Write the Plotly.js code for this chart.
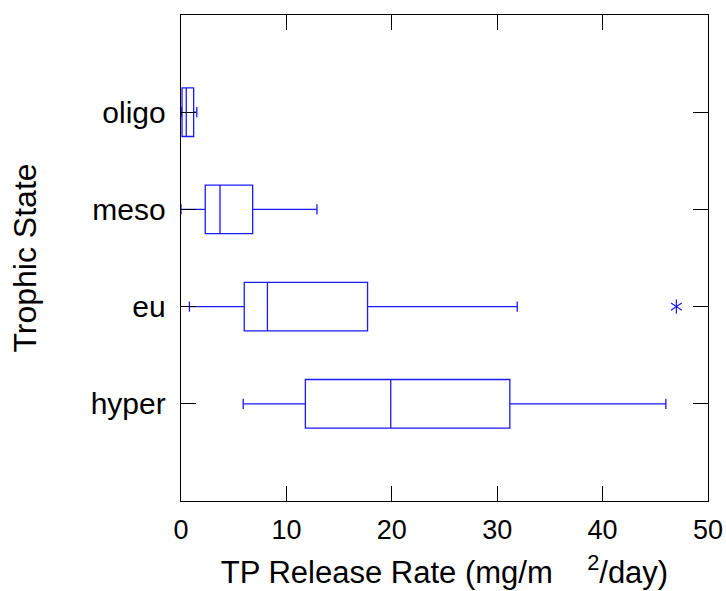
<!DOCTYPE html>
<html>
<head>
<meta charset="utf-8">
<script src="https://cdn.plot.ly/plotly-3.0.1.min.js"></script>
<style>html,body{margin:0;padding:0;background:#fff;}#chart{width:726px;height:591px;}</style>
</head>
<body>
<div id="chart"></div>
<script>
// Data
var categories = ['hyper', 'eu', 'meso', 'oligo'];
var lowerWhisker = [5.9, 0.8, 0.0, 0.0];
var q1Values = [11.8, 6.0, 2.3, 0.1];
var medianValues = [19.9, 8.2, 3.7, 0.5];
var q3Values = [31.2, 17.7, 6.8, 1.2];
var upperWhisker = [46.0, 31.9, 12.9, 1.5];
var outlierCategory = ['eu'];
var outlierValue = [47.0];
var xTickValues = [0, 10, 20, 30, 40, 50];

var blue = '#1a1aff';

var boxTrace = {
  type: 'box',
  orientation: 'h',
  y: categories,
  q1: q1Values,
  median: medianValues,
  q3: q3Values,
  lowerfence: lowerWhisker,
  upperfence: upperWhisker,
  width: 0.5,
  whiskerwidth: 0.21,
  fillcolor: 'rgba(0,0,0,0)',
  line: {color: blue, width: 1.3},
  boxpoints: false,
  hoverinfo: 'skip',
  showlegend: false
};

// six-armed asterisk built from two overlapping "y" symbols
function outlierTrace(sym) {
  return {
    type: 'scatter',
    mode: 'markers',
    x: outlierValue,
    y: outlierCategory,
    marker: {symbol: sym, size: 9, color: blue, line: {color: blue, width: 1.2}},
    showlegend: false,
    hoverinfo: 'skip'
  };
}

var fontFamily = 'Liberation Sans, Arial, sans-serif';
var layout = {
  width: 726,
  height: 591,
  margin: {l: 181, r: 18, t: 15, b: 90},
  paper_bgcolor: '#ffffff',
  plot_bgcolor: '#ffffff',
  font: {family: fontFamily, color: '#000000', size: 26},
  showlegend: false,
  xaxis: {
    range: [0, 50],
    tickvals: xTickValues,
    ticktext: xTickValues.map(String),
    ticks: 'inside',
    ticklen: 15,
    tickwidth: 1.3,
    tickcolor: '#000',
    showline: true,
    linecolor: '#000',
    linewidth: 1.3,
    mirror: 'ticks',
    showgrid: false,
    zeroline: false,
    tickfont: {size: 27, family: fontFamily},
    ticklabelstandoff: 4,
    title: {text: 'TP Release Rate (mg/m\u00a0\u00a0\u00a0\u00a0<sup>2</sup>/day)', font: {size: 31, family: fontFamily}, standoff: 17}
  },
  yaxis: {
    type: 'category',
    categoryorder: 'array',
    categoryarray: categories,
    range: [-1, 4],
    ticks: 'inside',
    ticklen: 15,
    tickwidth: 1.3,
    tickcolor: '#000',
    showline: true,
    linecolor: '#000',
    linewidth: 1.3,
    mirror: 'ticks',
    showgrid: false,
    zeroline: false,
    tickfont: {size: 30, family: fontFamily},
    ticklabelstandoff: 8,
    title: {text: 'Trophic State', font: {size: 32, family: fontFamily}, standoff: 44}
  }
};

Plotly.newPlot('chart', [boxTrace, outlierTrace('y-up-open'), outlierTrace('y-down-open')], layout, {displayModeBar: false, staticPlot: true});
</script>
</body>
</html>
